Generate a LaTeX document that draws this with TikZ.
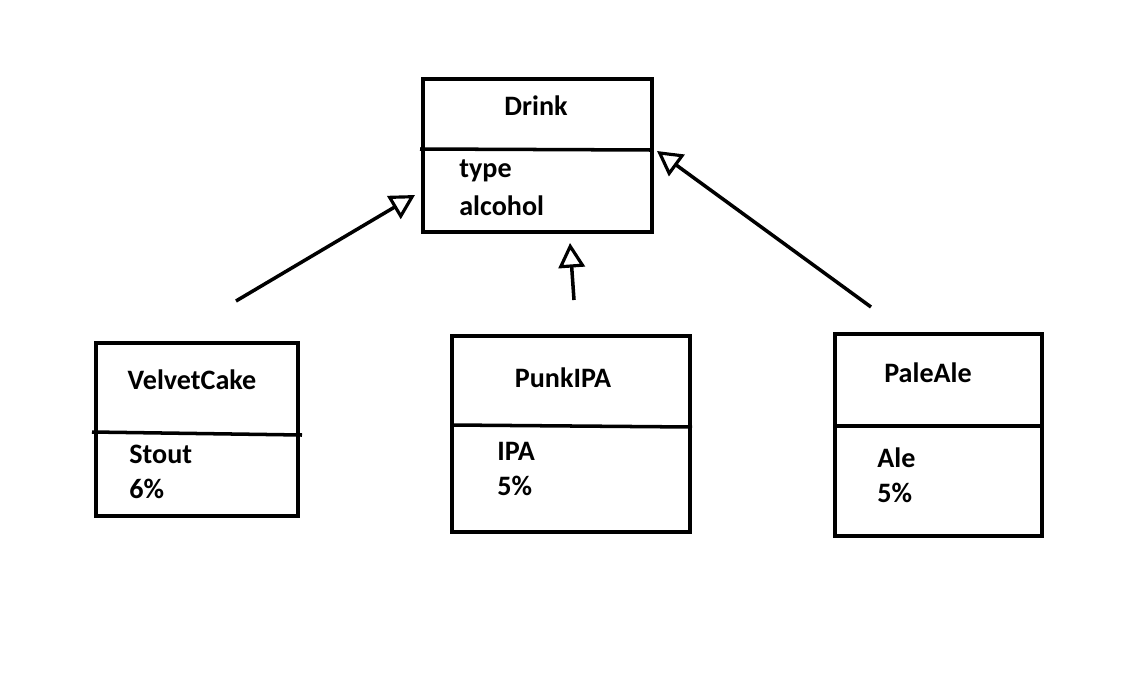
\documentclass[tikz,border=0pt]{standalone}
\usepackage{fontspec}
\setmainfont{Carlito}
\usetikzlibrary{arrows.meta}
\usetikzlibrary{positioning}
\tikzset{classbox/.style={draw, line width=2pt, inner sep=0pt},
txt/.style={font=\bfseries\fontsize{16}{18}\selectfont, inner sep=0pt},
inherit/.style={line width=2pt, -{Triangle[open, length=14pt, width=15pt, line width=1.8pt]}}}

\begin{document}
\begin{tikzpicture}[x=0.02cm, y=-0.02cm]
	\useasboundingbox (0,0) rectangle (1136,687);
	% superclass
	\node[classbox, minimum width=4.58cm, minimum height=3.06cm] (drink) at (537.5,155.5) {};
	\draw[line width=2pt] (420,149) -- (652,150);
	\node[txt] (drinkname) at (536,106) {Drink};
	\node[txt, anchor=west] (type) at (459,171) {type};
	\node[txt, anchor=west] (alcohol) at (459,206) {alcohol};
	% subclasses
	\node[classbox, minimum width=4.04cm, minimum height=3.46cm] (velvet) at (197,429.5) {};
	\draw[line width=2pt] (92,432) -- (302,435);
	\node[txt] (velvetname) at (192,380) {VelvetCake};
	\node[txt, anchor=west] (stout) at (129,454) {Stout};
	\node[txt, anchor=west] (velvetpct) at (129,489) {6\%};
	\node[classbox, minimum width=4.76cm, minimum height=3.92cm] (punk) at (571,434) {};
	\draw[line width=2pt] (452,425) -- (692,427);
	\node[txt] (punkname) at (563,378) {PunkIPA};
	\node[txt, anchor=west] (ipa) at (497,451) {IPA};
	\node[txt, anchor=west] (punkpct) at (497,486) {5\%};
	\node[classbox, minimum width=4.14cm, minimum height=4.04cm] (pale) at (938.5,435) {};
	\draw[line width=2pt] (835,426) -- (1042,426);
	\node[txt] (palename) at (928,373) {PaleAle};
	\node[txt, anchor=west] (ale) at (877,458) {Ale};
	\node[txt, anchor=west] (palepct) at (877,493) {5\%};
	% inheritance arrows
	\coordinate (velvettail) at (236,301);
	\coordinate (punktail) at (574,300);
	\coordinate (paletail) at (871,307);
	\draw[inherit] (velvettail) -- (415,195);
	\draw[inherit] (punktail) -- (570,243);
	\draw[inherit] (paletail) -- (657,151);
\end{tikzpicture}
\end{document}
